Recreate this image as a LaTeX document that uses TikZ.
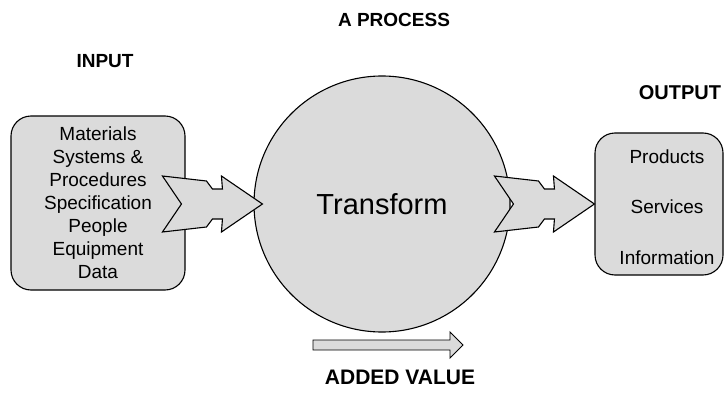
\documentclass[tikz,border=0pt]{standalone}
\usepackage{fontspec}
\setmainfont{Liberation Sans}
\begin{document}
\begin{tikzpicture}[x=1pt,y=-1pt,
  shaded/.style={fill=black!14},
  outline/.style={draw=black,line width=1.1pt},
  heading/.style={font=\fontsize{19}{23}\selectfont\bfseries,inner sep=0pt},
  boxtext/.style={font=\fontsize{19}{23}\selectfont,align=center,inner sep=0pt},
  roundbox/.style={shaded,outline,rectangle,rounded corners=20pt,inner sep=0pt},
  fatarrow/.pic={
    \filldraw[shaded,outline,line join=miter]
      (-100,-28) -- (-56,-23) -- (-50,-15) -- (-40,-15) -- (-41,-28)
      -- (0,0) -- (-41,28) -- (-40,15) -- (-50,15) -- (-56,23)
      -- (-100,28) -- (-81,0) -- cycle;
  }]
\useasboundingbox (0,0) rectangle (725,396);

% headings
\node[heading] (process) at (394,20) {A PROCESS};
\node[heading] (input)   at (105,61) {INPUT};
\node[heading,font=\fontsize{20}{24}\selectfont\bfseries] (output) at (680,93) {OUTPUT};
\node[heading,font=\fontsize{21}{25}\selectfont\bfseries] (value) at (400,377) {ADDED VALUE};

% input resources
\node[roundbox,minimum width=174pt,minimum height=174pt] (in) at (98,203) {};
\node[boxtext] (intext) at (98,203)
  {Materials\\Systems \&\\Procedures\\Specification\\People\\Equipment\\Data};

% the transformation
\node[circle,shaded,outline,minimum size=256pt,inner sep=0pt,
      font=\fontsize{29}{34}\selectfont] (proc) at (382,204) {Transform};

% outputs
\node[roundbox,minimum width=128pt,minimum height=142pt] (out) at (659,204) {};
\node[boxtext,font=\fontsize{19}{50.5}\selectfont] (outtext) at (667,207)
  {Products\\Services\\Information};

% flow arrows
\pic at ([xshift=9pt]proc.west) {fatarrow};
\pic at (out.west) {fatarrow};

% added value arrow
\coordinate (gain) at (313,345);
\filldraw[shaded,outline,line width=0.9pt]
  (gain) ++(0,-5) -- ++(137,0) -- ++(0,-8) -- ++(13,13) -- ++(-13,13)
  -- ++(0,-8) -- ++(-137,0) -- cycle;
\end{tikzpicture}
\end{document}
